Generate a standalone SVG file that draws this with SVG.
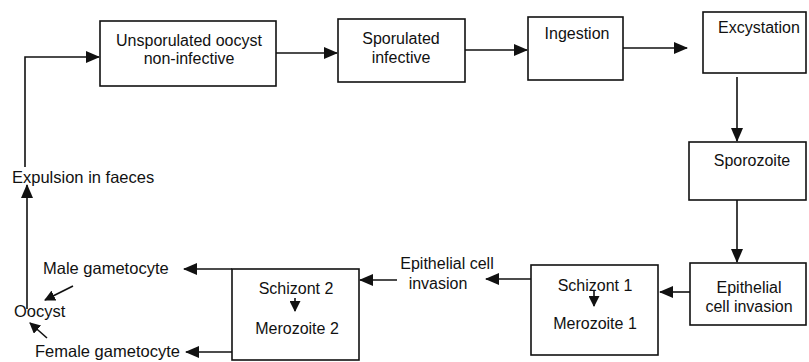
<svg xmlns="http://www.w3.org/2000/svg" width="809" height="362" viewBox="0 0 809 362">
<style>
.box{fill:#fff;stroke:#111;stroke-width:1.6}
.ln{fill:none;stroke:#111;stroke-width:1.6}
text{font-family:"Liberation Sans",Arial,sans-serif;font-size:16px;fill:#111}
.c{text-anchor:middle}
.l{font-size:16.5px}
</style>
<defs>
<marker id="ah" viewBox="0 0 14 12" refX="13" refY="6" markerWidth="14" markerHeight="12" markerUnits="userSpaceOnUse" orient="auto">
<path d="M0,0 L14,6 L0,12 Z" fill="#111"/>
</marker>
<marker id="sh" viewBox="0 0 11 11" refX="10" refY="5.5" markerWidth="11" markerHeight="11" markerUnits="userSpaceOnUse" orient="auto">
<path d="M0,0 L11,5.5 L0,11 Z" fill="#111"/>
</marker>
</defs>
<rect width="809" height="362" fill="#fff"/>
<g id="connectors">
<path class="ln" d="M276,53 H337" marker-end="url(#ah)"/>
<path class="ln" d="M465,50 H527" marker-end="url(#ah)"/>
<path class="ln" d="M623,48 H687" marker-end="url(#ah)"/>
<path class="ln" d="M737,77 V141" marker-end="url(#ah)"/>
<path class="ln" d="M737,200 V262" marker-end="url(#ah)"/>
<path class="ln" d="M690,292 H660" marker-end="url(#ah)"/>
<path class="ln" d="M531,279 H486" marker-end="url(#ah)"/>
<path class="ln" d="M397,280 H360" marker-end="url(#ah)"/>
<path class="ln" d="M232,269 H184" marker-end="url(#ah)"/>
<path class="ln" d="M234,352 H186" marker-end="url(#ah)"/>
<path class="ln" d="M73,286 L45,300" marker-end="url(#sh)"/>
<path class="ln" d="M47,338 L30,323" marker-end="url(#sh)"/>
<path class="ln" d="M27,309 V185" marker-end="url(#ah)"/>
<path class="ln" d="M25,167 V57 H99" marker-end="url(#ah)"/>
</g>
<g id="unsporulated">
<rect class="box" x="100" y="21" width="176" height="65"/>
<text class="c" x="189" y="46">Unsporulated oocyst</text>
<text class="c" x="189" y="64">non-infective</text>
</g>
<g id="sporulated">
<rect class="box" x="338" y="19" width="127" height="63"/>
<text class="c" x="401" y="44">Sporulated</text>
<text class="c" x="401" y="63">infective</text>
</g>
<g id="ingestion">
<rect class="box" x="528" y="17" width="95" height="63"/>
<text class="c" x="577" y="39">Ingestion</text>
</g>
<g id="excystation">
<rect class="box" x="703" y="12" width="103" height="61"/>
<text class="c" x="759" y="33">Excystation</text>
</g>
<g id="sporozoite">
<rect class="box" x="689" y="142" width="117" height="58"/>
<text class="c" x="752" y="166">Sporozoite</text>
</g>
<g id="epithelial1">
<rect class="box" x="690" y="263" width="116" height="62"/>
<text class="c" x="749" y="293">Epithelial</text>
<text class="c" x="749" y="312">cell invasion</text>
</g>
<g id="schizont1">
<rect class="box" x="531" y="265" width="127" height="90"/>
<text class="c" x="595" y="291">Schizont 1</text>
<path class="ln" d="M594,291 V306" marker-end="url(#sh)"/>
<text class="c" x="595" y="329">Merozoite 1</text>
</g>
<g id="epithelial2">
<text class="c" x="447" y="269">Epithelial cell</text>
<text class="c" x="438" y="289">invasion</text>
</g>
<g id="schizont2">
<rect class="box" x="232" y="269" width="127" height="91"/>
<text class="c" x="296" y="294">Schizont 2</text>
<path class="ln" d="M295,298 V311" marker-end="url(#sh)"/>
<text class="c" x="297" y="334">Merozoite 2</text>
</g>
<g id="male"><text class="l" x="43" y="274">Male gametocyte</text></g>
<g id="female"><text class="l" x="35" y="357">Female gametocyte</text></g>
<g id="oocyst"><text class="l" x="14" y="317">Oocyst</text></g>
<g id="expulsion"><text class="l" x="12" y="183">Expulsion in faeces</text></g>
</svg>
